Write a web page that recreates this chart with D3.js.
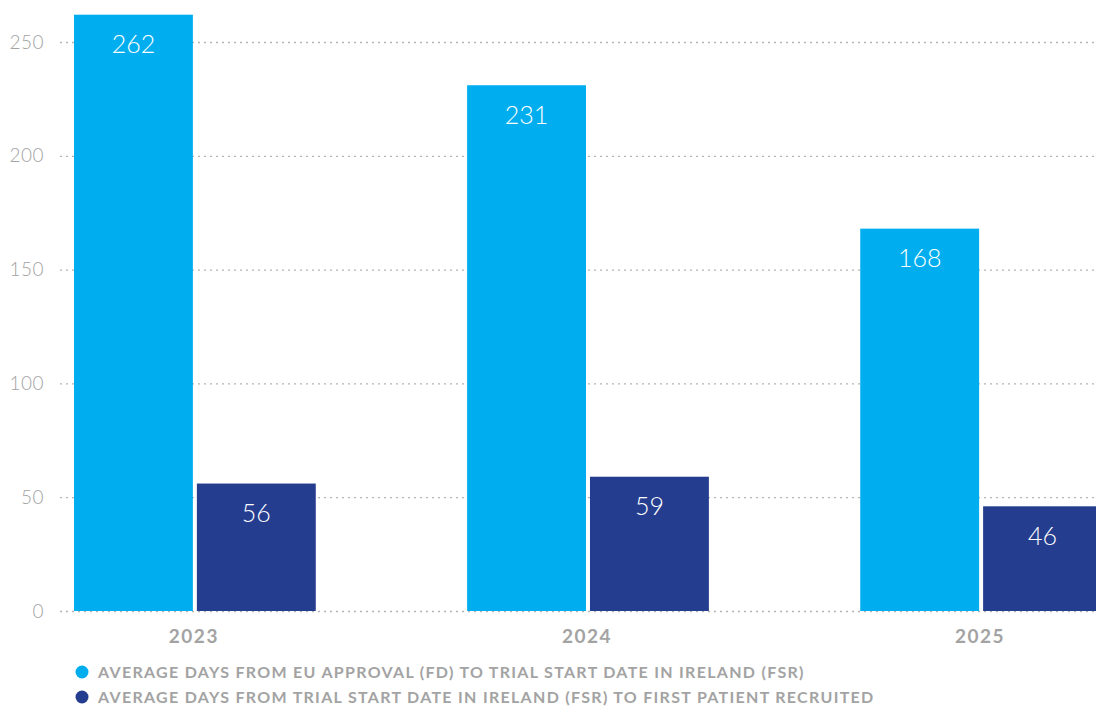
<!DOCTYPE html>
<html>
<head>
<meta charset="utf-8">
<script src="https://cdn.jsdelivr.net/npm/d3@7"></script>
<style>
  body { margin: 0; background: #fff; }
  svg { display: block; font-family: Lato, "Open Sans", sans-serif; }
</style>
</head>
<body>
<div id="chart"></div>
<script>
const years = ['2023', '2024', '2025'];
const seriesNames = [
    'AVERAGE DAYS FROM EU APPROVAL (FD) TO TRIAL START DATE IN IRELAND (FSR)',
    'AVERAGE DAYS FROM TRIAL START DATE IN IRELAND (FSR) TO FIRST PATIENT RECRUITED'
];
const approvalToStart = [262, 231, 168];
const startToFirstPatient = [56, 59, 46];
const yTicks = [0, 50, 100, 150, 200, 250];
const colors = ['#00aeef', '#253d8e'];

const width = 1096, height = 706;

const svg = d3.select('#chart').append('svg')
    .attr('width', width)
    .attr('height', height);

const y = d3.scaleLinear().domain([0, 250]).range([611, 42]);
const x = d3.scaleBand().domain(years).range([74, 1102]).paddingInner(0.385).paddingOuter(0);
const xs = d3.scaleBand().domain([0, 1]).range([0, x.bandwidth()]).paddingInner(0.0325);

// gridlines
svg.append('g')
    .selectAll('line')
    .data(yTicks)
    .enter()
    .append('line')
        .attr('x1', 60)
        .attr('x2', width)
        .attr('y1', d => y(d) + 0.5)
        .attr('y2', d => y(d) + 0.5)
        .attr('stroke', '#b4b4b4')
        .attr('stroke-width', 1.3)
        .attr('stroke-dasharray', '2,4');

svg.append('g')
    .selectAll('text')
    .data(yTicks)
    .enter()
    .append('text')
        .attr('x', 44)
        .attr('y', d => y(d))
        .attr('dy', '0.35em')
        .attr('text-anchor', 'end')
        .attr('font-size', 19)
        .attr('font-weight', 300)
        .attr('letter-spacing', 0.5)
        .attr('fill', '#a3a3a3')
        .text(d => d);

let rows = [];
years.forEach(function(yr, i) {
    rows.push({ year: yr, s: 0, value: approvalToStart[i] });
    rows.push({ year: yr, s: 1, value: startToFirstPatient[i] });
});

const bars = svg.append('g')
    .selectAll('g')
    .data(rows)
    .enter()
    .append('g');

bars.append('rect')
    .attr('x', d => x(d.year) + xs(d.s))
    .attr('y', d => y(d.value))
    .attr('width', xs.bandwidth())
    .attr('height', d => y(0) - y(d.value))
    .attr('fill', d => colors[d.s]);

bars.append('text')
    .attr('x', d => x(d.year) + xs(d.s) + xs.bandwidth() / 2)
    .attr('y', d => y(d.value) + 30)
    .attr('dy', '0.35em')
    .attr('text-anchor', 'middle')
    .attr('font-size', 25)
    .attr('font-weight', 300)
    .attr('fill', '#fff')
    .text(d => d.value);

svg.append('g')
    .selectAll('text')
    .data(years)
    .enter()
    .append('text')
        .attr('x', d => x(d) + x.bandwidth() / 2 - 1)
        .attr('y', 636)
        .attr('dy', '0.35em')
        .attr('text-anchor', 'middle')
        .attr('font-size', 19)
        .attr('font-weight', 700)
        .attr('letter-spacing', 1.5)
        .attr('fill', '#a3a3a3')
        .text(d => d);

const legend = svg.append('g')
    .selectAll('g')
    .data(seriesNames)
    .enter()
    .append('g')
        .attr('transform', (d, i) => `translate(82, ${672 + i * 25})`);

legend.append('circle')
    .attr('r', 6.5)
    .attr('fill', (d, i) => colors[i]);

legend.append('text')
    .attr('x', 16)
    .attr('dy', '0.35em')
    .attr('font-size', 16)
    .attr('font-weight', 700)
    .attr('letter-spacing', 1.3)
    .attr('fill', '#a3a3a3')
    .text(d => d);
</script>
</body>
</html>
